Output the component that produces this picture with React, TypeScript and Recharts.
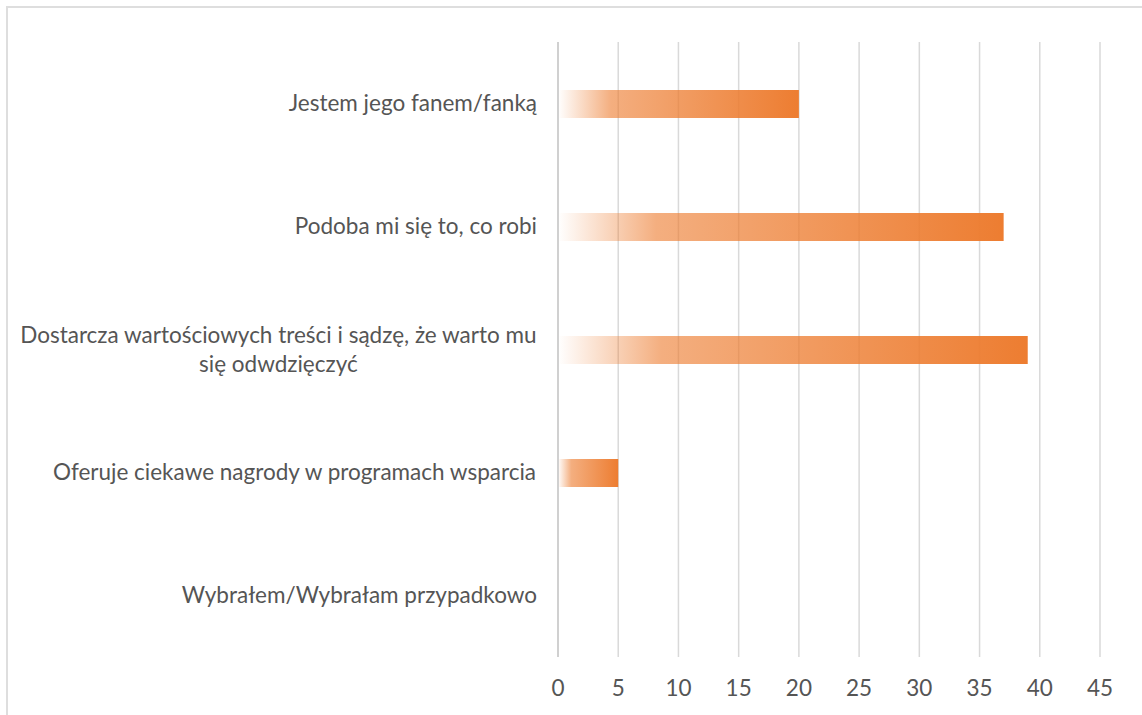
import { BarChart, Bar, XAxis, YAxis, CartesianGrid } from 'recharts'

const categories = [
  'Jestem jego fanem/fanką',
  'Podoba mi się to, co robi',
  'Dostarcza wartościowych treści i sądzę, że warto mu się odwdzięczyć',
  'Oferuje ciekawe nagrody w programach wsparcia',
  'Wybrałem/Wybrałam przypadkowo',
]
const values = [20, 37, 39, 5, 0]
const xTicks = [0, 5, 10, 15, 20, 25, 30, 35, 40, 45]

const data = categories.map((name, i) => ({ name, value: values[i] }))

const FONT = 'Lato, "Open Sans", sans-serif'
const FONT_SIZE = 22.5
const TEXT = '#555555'

let ctx: CanvasRenderingContext2D | null = null
const measure = (s: string) => {
  if (!ctx) ctx = document.createElement('canvas').getContext('2d')
  if (!ctx) return s.length * 11
  ctx.font = `${FONT_SIZE}px ${FONT}`
  return ctx.measureText(s).width
}

const wrap = (text: string, maxWidth: number) => {
  const words = text.split(' ')
  const lines: string[] = []
  let cur = ''
  words.forEach((w) => {
    const next = cur ? cur + ' ' + w : w
    if (cur && measure(next) > maxWidth) {
      lines.push(cur)
      cur = w
    } else {
      cur = next
    }
  })
  if (cur) lines.push(cur)
  return lines
}

const CategoryTick = (props: any) => {
  const { x, y, payload } = props
  const lines = wrap(payload.value, 525)
  const blockW = Math.max(...lines.map(measure))
  const cx = x - blockW / 2
  const lh = 29
  const startY = y - ((lines.length - 1) * lh) / 2
  return (
    <g>
      {lines.map((l, i) => (
        <text
          key={i}
          x={cx}
          y={startY + i * lh}
          dy="0.35em"
          textAnchor="middle"
          fill={TEXT}
          fontSize={FONT_SIZE}
          fontFamily={FONT}
        >
          {l}
        </text>
      ))}
    </g>
  )
}

const App = () => {
  return (
    <div style={{ position: 'fixed', inset: 0, overflow: 'hidden', background: '#fff' }}>
      <div
        style={{
          position: 'absolute',
          left: 6,
          top: 6,
          width: 1300,
          height: 900,
          border: '2px solid #dedede',
        }}
      />
      <div style={{ position: 'absolute', left: 0, top: 0 }}>
        <BarChart
          width={1142}
          height={715}
          data={data}
          layout="vertical"
          margin={{ top: 42, right: 42, bottom: 28, left: 0 }}
          barCategoryGap={0}
        >
          <defs>
            <linearGradient id="barGrad" x1="0" y1="0" x2="1" y2="0">
              <stop offset="0%" stopColor="#ED7D31" stopOpacity={0} />
              <stop offset="22%" stopColor="#ED7D31" stopOpacity={0.62} />
              <stop offset="100%" stopColor="#ED7D31" stopOpacity={1} />
            </linearGradient>
          </defs>
          <CartesianGrid horizontal={false} stroke="#d9d9d9" strokeWidth={1.5} />
          <XAxis
            type="number"
            domain={[0, 45]}
            ticks={xTicks}
            axisLine={false}
            tickLine={false}
            tickSize={0}
            tickMargin={23}
            height={30}
            tick={{ fill: TEXT, fontSize: FONT_SIZE, fontFamily: FONT }}
          />
          <YAxis
            type="category"
            dataKey="name"
            width={558}
            axisLine={{ stroke: '#d0d0d0', strokeWidth: 2 }}
            tickLine={false}
            tickSize={0}
            tickMargin={21}
            interval={0}
            tick={<CategoryTick />}
          />
          <Bar dataKey="value" fill="url(#barGrad)" barSize={28} isAnimationActive={false} />
        </BarChart>
      </div>
    </div>
  )
}

export default App
